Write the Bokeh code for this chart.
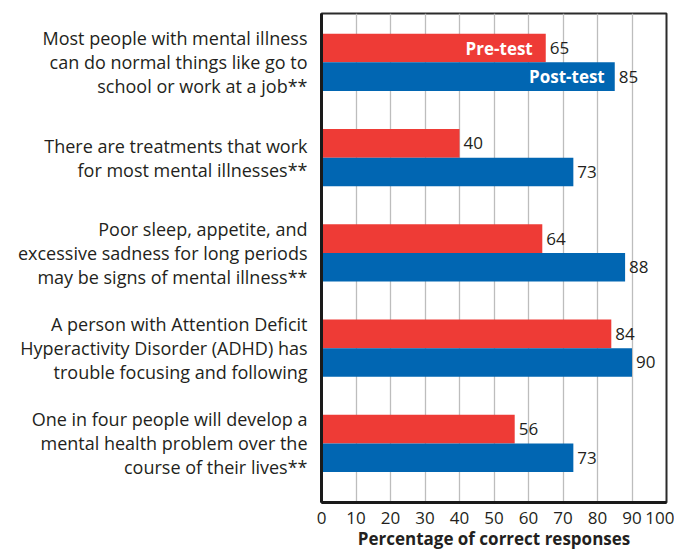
from bokeh.plotting import figure
from bokeh.models import Range1d, ColumnDataSource, FixedTicker
from bokeh.embed import file_html
from bokeh.resources import INLINE
from bokeh.core.properties import value

statements = [
    ["Most people with mental illness", "can do normal things like go to", "school or work at a job**"],
    ["There are treatments that work", "for most mental illnesses**"],
    ["Poor sleep, appetite, and", "excessive sadness for long periods", "may be signs of mental illness**"],
    ["A person with Attention Deficit", "Hyperactivity Disorder (ADHD) has", "trouble focusing and following"],
    ["One in four people will develop a", "mental health problem over the", "course of their lives**"],
]
pre_test = [65, 40, 64, 84, 56]
post_test = [85, 73, 88, 90, 73]
series_names = ["Pre-test", "Post-test"]
x_ticks = [0, 10, 20, 30, 40, 50, 60, 70, 80, 90, 100]
x_title = "Percentage of correct responses"

RED = "#EE3B36"
BLUE = "#0166B2"
TXT = "#231F20"
FONT = "Open Sans"

n = len(statements)
pos = [n - 1 - i for i in range(n)]
bar_h = 0.3
pre_y = [p_ + bar_h / 2 for p_ in pos]
post_y = [p_ - bar_h / 2 for p_ in pos]

p = figure(width=674, height=552, output_backend="svg", toolbar_location=None,
           x_range=Range1d(0, 100), y_range=Range1d(-0.62, n - 1 + 0.513),
           min_border_left=321, min_border_right=8, min_border_top=13, min_border_bottom=49)
p.background_fill_color = "white"
p.border_fill_color = "white"
p.outline_line_color = "#2b2b2b"
p.outline_line_width = 2

src_pre = ColumnDataSource(dict(y=pre_y, v=pre_test, t=[str(v) for v in pre_test]))
src_post = ColumnDataSource(dict(y=post_y, v=post_test, t=[str(v) for v in post_test]))

p.hbar(y="y", right="v", left=0, height=bar_h, source=src_pre, fill_color=RED, line_color=None)
p.hbar(y="y", right="v", left=0, height=bar_h, source=src_post, fill_color=BLUE, line_color=None)

p.text(x="v", y="y", text="t", source=src_pre, x_offset=4, text_baseline="middle",
       text_align="left", text_font=value(FONT), text_font_size="17px", text_color=TXT)
p.text(x="v", y="y", text="t", source=src_post, x_offset=4, text_baseline="middle",
       text_align="left", text_font=value(FONT), text_font_size="17px", text_color=TXT)

p.text(x=[pre_test[0]], y=[pre_y[0]], text=[series_names[0]], x_offset=-13,
       text_baseline="middle", text_align="right", text_font=value(FONT),
       text_font_size="17px", text_font_style="bold", text_color="white")
p.text(x=[post_test[0]], y=[post_y[0]], text=[series_names[1]], x_offset=-10,
       text_baseline="middle", text_align="right", text_font=value(FONT),
       text_font_size="17px", text_font_style="bold", text_color="white")

p.ygrid.grid_line_color = None
p.xgrid.ticker = FixedTicker(ticks=x_ticks)
p.xgrid.grid_line_color = "#BDBDBD"
p.xgrid.grid_line_width = 1.3

p.xaxis.ticker = FixedTicker(ticks=x_ticks)
p.xaxis.axis_line_width = 3
p.xaxis.axis_line_color = "#1a1a1a"
p.xaxis.major_tick_line_color = None
p.xaxis.minor_tick_line_color = None
p.xaxis.major_label_text_font = FONT
p.xaxis.major_label_text_font_size = "17px"
p.xaxis.major_label_text_color = TXT
p.xaxis.major_label_standoff = 3
p.xaxis.axis_label = x_title
p.xaxis.axis_label_text_font = FONT
p.xaxis.axis_label_text_font_size = "17px"
p.xaxis.axis_label_text_font_style = "bold"
p.xaxis.axis_label_text_color = TXT
p.xaxis.axis_label_standoff = 0

p.yaxis.ticker = FixedTicker(ticks=pos)
p.yaxis.major_label_overrides = {pos[i]: "\n".join(statements[i]) for i in range(n)}
p.yaxis.axis_line_width = 3
p.yaxis.axis_line_color = "#1a1a1a"
p.yaxis.major_tick_line_color = None
p.yaxis.minor_tick_line_color = None
p.yaxis.major_label_text_font = FONT
p.yaxis.major_label_text_font_size = "18px"
p.yaxis.major_label_text_color = TXT
p.yaxis.major_label_text_line_height = 1.0
p.yaxis.major_label_text_align = "right"
p.yaxis.major_label_standoff = 8

open("out.html", "w").write(file_html(p, INLINE))
